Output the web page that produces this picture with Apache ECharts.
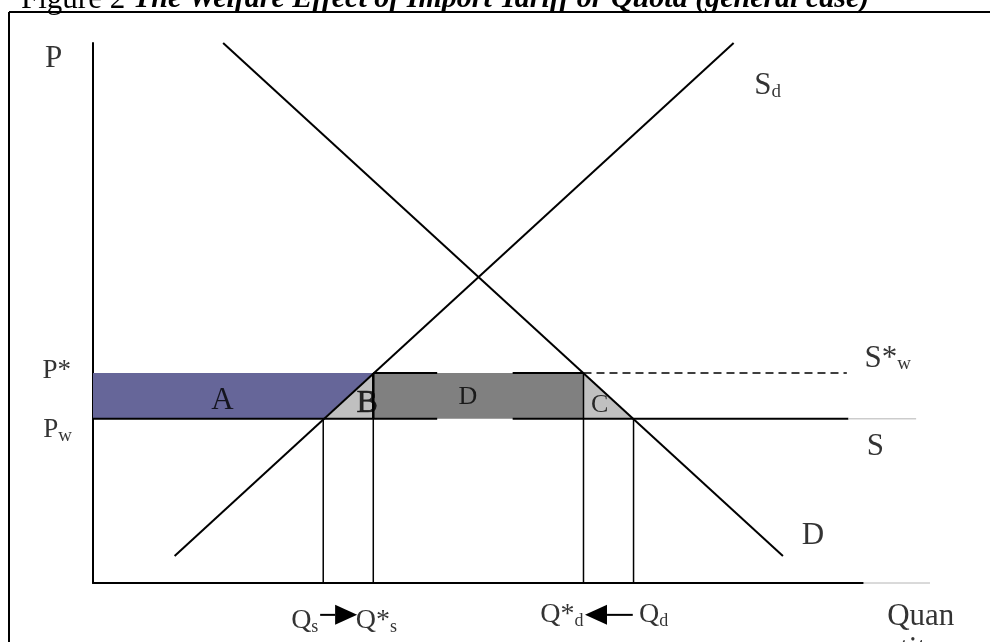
<!DOCTYPE html>
<html>
<head>
<meta charset="utf-8">
<title>Figure 2 - Welfare Effect of Import Tariff or Quota</title>
<script src="https://cdn.jsdelivr.net/npm/echarts@6/dist/echarts.min.js"></script>
<style>
    html, body { margin: 0; padding: 0; background: #ffffff; }
    #chart { width: 990px; height: 642px; }
</style>
</head>
<body>
<div id="chart"></div>
<script>

// values (axis units 0..100)
const priceLevels = [30.4, 38.9];                 // Pw, P*
const quantities = [29.9, 36.4, 63.7, 70.2];      // Qs, Q*s, Q*d, Qd
const supplyCurve = [[10.6, 5], [83.2, 100]];     // Sd
const demandCurve = [[16.9, 100], [89.6, 5]];     // D
const worldSupplyEnd = [98.1, 106.9];             // S line: black part, grey tail
const tariffLineEnd = 97.9;                       // S*w dashed line
const axisTailEnd = 108.7;                        // grey tail of the quantity axis
const boxLineGap = [44.7, 54.5];                  // break in the edges of box D
const arrowLevel = -5.9;                          // height of the Q arrows
const arrowEnds = [[29.5, 34.3], [70.1, 63.9]];   // [tail, tip] of each arrow

const FONT = "'Liberation Serif', 'Times New Roman', serif";

// entry
window.onload = function () {
    drawChart();
};


function drawChart() {
    const pw = priceLevels[0], pStar = priceLevels[1];
    const qs = quantities[0], qsStar = quantities[1], qdStar = quantities[2], qd = quantities[3];

    // shaded welfare areas
    const areas = [
        {fill: '#666699', pts: [[0, pw], [qs, pw], [qsStar, pStar], [0, pStar]]},     // A
        {fill: '#c0c0c0', pts: [[qs, pw], [qsStar, pw], [qsStar, pStar]]},            // B
        {fill: '#808080', pts: [[qsStar, pw], [qdStar, pw], [qdStar, pStar], [qsStar, pStar]]}, // D
        {fill: '#c0c0c0', pts: [[qdStar, pw], [qd, pw], [qdStar, pStar]]}             // C
    ];

    // helper for a plain line series
    function seg(data, color, width, type) {
        return {
            type: 'line',
            data: data,
            symbol: 'none',
            silent: true,
            z: 5,
            lineStyle: {color: color, width: width, type: type || 'solid'},
            animation: false
        };
    }

    const rich = {
        m: {fontFamily: FONT, fontSize: 31, color: '#000'},
        m2: {fontFamily: FONT, fontSize: 31, color: '#000', lineHeight: 36},
        b: {fontFamily: FONT, fontSize: 32, color: '#000', textBorderColor: '#000', textBorderWidth: 0.6},
        p: {fontFamily: FONT, fontSize: 27, color: '#000'},
        s: {fontFamily: FONT, fontSize: 26, color: '#000'},
        q: {fontFamily: FONT, fontSize: 28, color: '#000'},
        sub: {fontFamily: FONT, fontSize: 19, color: '#000', verticalAlign: 'bottom', lineHeight: 12},
        subq: {fontFamily: FONT, fontSize: 18, color: '#000', verticalAlign: 'bottom', lineHeight: 10}
    };

    // text anchors (axis units)
    const labels = [
        {text: '{m|P}', at: [-5.1, 97.0]},
        {text: '{p|P*}', at: [-4.7, 39.3]},
        {text: '{p|P}{sub|w}', at: [-4.6, 28.3]},
        {text: '{m|A}', at: [16.8, 33.7]},
        {text: '{b|B}', at: [35.6, 33.2]},
        {text: '{s|D}', at: [48.7, 34.4]},
        {text: '{s|C}', at: [65.8, 33.0]},
        {text: '{m|S}{sub|d}', at: [87.6, 92.0]},
        {text: '{m|S*}{sub|w}', at: [103.2, 41.5]},
        {text: '{m|S}', at: [101.6, 25.2]},
        {text: '{m|D}', at: [93.5, 8.7]},
        {text: '{m|Quan}\n{m2|tity}', at: [107.5, -9.6]},
        {text: '{q|Q}{subq|s}', at: [27.5, -7.0]},
        {text: '{q|Q*}{subq|s}', at: [36.8, -7.0]},
        {text: '{q|Q*}{subq|d}', at: [60.9, -5.9]},
        {text: '{q|Q}{subq|d}', at: [72.8, -5.9]}
    ];

    let option = {
        backgroundColor: '#ffffff',
        animation: false,
        grid: {left: 93, top: 43, right: 127, bottom: 59},
        xAxis: {
            type: 'value', min: 0, max: 100,
            axisLine: {show: true, onZero: false, lineStyle: {color: '#000', width: 2}},
            axisTick: {show: false}, axisLabel: {show: false}, splitLine: {show: false}
        },
        yAxis: {
            type: 'value', min: 0, max: 100,
            axisLine: {show: true, onZero: false, lineStyle: {color: '#000', width: 2}},
            axisTick: {show: false}, axisLabel: {show: false}, splitLine: {show: false}
        },
        graphic: [
            // outer frame
            {type: 'line', shape: {x1: 9, y1: 12, x2: 990, y2: 12}, style: {stroke: '#000', lineWidth: 2}},
            {type: 'line', shape: {x1: 9, y1: 12, x2: 9, y2: 642}, style: {stroke: '#000', lineWidth: 2}},
            // title, cut off by the page top
            {
                type: 'text', left: 21, top: -16,
                style: {
                    text: '{n|Figure 2 }{b|The Welfare Effect of Import Tariff or Quota (general case)}',
                    rich: {
                        n: {fontFamily: FONT, fontSize: 31, color: '#000'},
                        b: {fontFamily: FONT, fontSize: 30, fontWeight: 'bold', fontStyle: 'italic', color: '#000'}
                    }
                }
            }
        ],
        series: [
            {
                type: 'custom',
                silent: true,
                z: 2,
                data: areas.map(function (a, i) { return i; }),
                renderItem: function (params, api) {
                    const a = areas[params.dataIndex];
                    return {
                        type: 'polygon',
                        shape: {points: a.pts.map(function (p) { return api.coord(p); })},
                        style: {fill: a.fill, stroke: null}
                    };
                }
            },
            // supply and demand
            seg(supplyCurve, '#000', 2),
            seg(demandCurve, '#000', 2),
            // world price line S (with break under box D)
            seg([[0, pw], [boxLineGap[0], pw]], '#000', 2),
            seg([[boxLineGap[1], pw], [worldSupplyEnd[0], pw]], '#000', 2),
            // top edge of box D, then the tariff line S*w
            seg([[qsStar, pStar], [boxLineGap[0], pStar]], '#000', 2),
            seg([[boxLineGap[1], pStar], [qdStar, pStar]], '#000', 2),
            seg([[qdStar, pStar], [tariffLineEnd, pStar]], '#000', 1.5, [8, 5]),
            // quantity drop lines
            seg([[qs, pw], [qs, 0]], '#000', 1.5),
            seg([[qsStar, pStar], [qsStar, 0]], '#000', 1.5),
            seg([[qsStar, pStar], [qsStar, pw]], '#000', 2.5),
            seg([[qdStar, pStar], [qdStar, 0]], '#000', 1.5),
            seg([[qd, pw], [qd, 0]], '#000', 1.5),
            // grey tails and the arrows, drawn outside the grid
            {
                type: 'custom',
                silent: true,
                clip: false,
                z: 6,
                data: [0],
                renderItem: function (params, api) {
                    const kids = [];
                    const tails = [
                        [[worldSupplyEnd[0], pw], [worldSupplyEnd[1], pw]],
                        [[100, 0], [axisTailEnd, 0]]
                    ];
                    tails.forEach(function (t) {
                        const a = api.coord(t[0]), b = api.coord(t[1]);
                        kids.push({
                            type: 'line',
                            shape: {x1: a[0], y1: a[1], x2: b[0], y2: b[1]},
                            style: {stroke: '#b4b4b4', lineWidth: 1}
                        });
                    });
                    arrowEnds.forEach(function (e) {
                        const tail = api.coord([e[0], arrowLevel]);
                        const tip = api.coord([e[1], arrowLevel]);
                        const dir = tip[0] > tail[0] ? 1 : -1;
                        const baseX = tip[0] - dir * 22;
                        kids.push({
                            type: 'line',
                            shape: {x1: tail[0], y1: tail[1], x2: baseX, y2: tip[1]},
                            style: {stroke: '#000', lineWidth: 2}
                        });
                        kids.push({
                            type: 'polygon',
                            shape: {points: [[tip[0], tip[1]], [baseX, tip[1] - 10], [baseX, tip[1] + 10]]},
                            style: {fill: '#000'}
                        });
                    });
                    return {type: 'group', children: kids};
                }
            },
            // text labels
            {
                type: 'scatter',
                silent: true,
                clip: false,
                symbolSize: 0,
                z: 10,
                data: labels.map(function (l) {
                    return {value: l.at, label: {formatter: l.text}};
                }),
                label: {show: true, position: 'inside', rich: rich, lineHeight: 30}
            }
        ]
    };

    let chart = echarts.init(document.getElementById('chart'), null, {renderer: 'canvas'});
    chart.setOption(option);

    window.onresize = function () {
        chart.resize();
    };
}

</script>
</body>
</html>
